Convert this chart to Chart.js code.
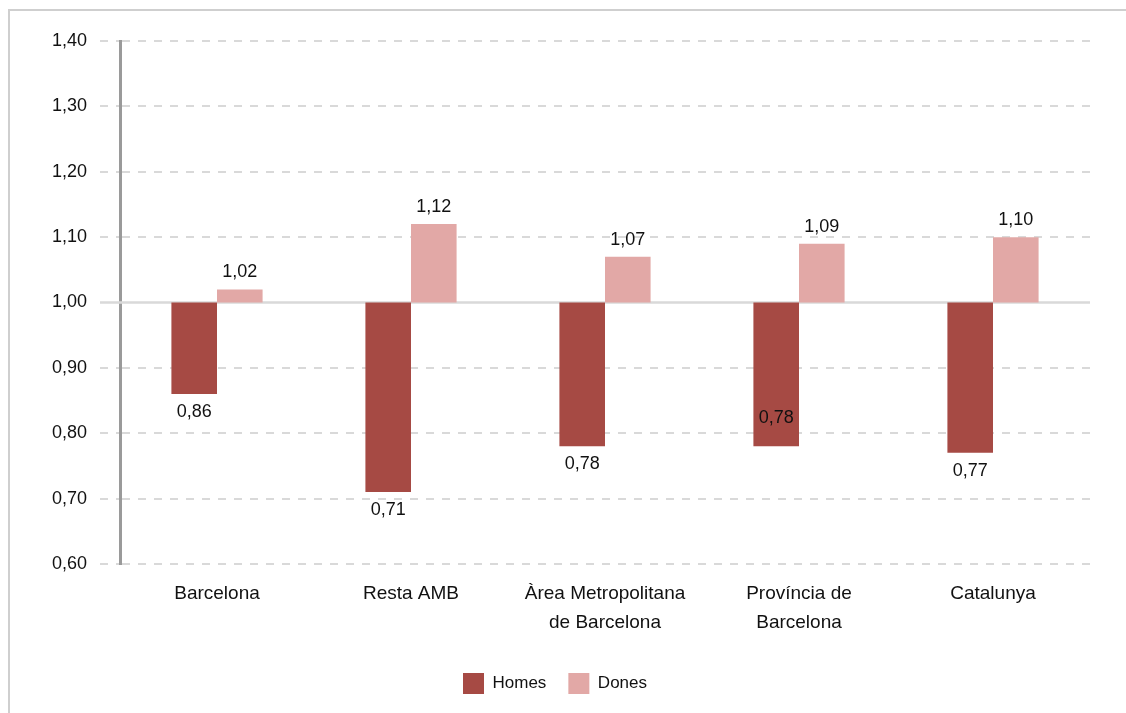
<!DOCTYPE html>
<html>
<head>
<meta charset="utf-8">
<script src="https://cdn.jsdelivr.net/npm/chart.js@4"></script>
<style>
  html, body { margin: 0; padding: 0; background: #fff; }
  #frame {
    position: absolute; left: 8px; top: 9px; width: 1118px; height: 704px;
    border-left: 2px solid #cfcfcf; border-top: 2px solid #cfcfcf;
  }
  #wrap { position: absolute; left: 0; top: 0; width: 1126px; height: 713px; }
</style>
</head>
<body>
<div id="frame"></div>
<div id="wrap"><canvas id="chart"></canvas></div>
<script>
// Data
const categories = [
  "Barcelona",
  "Resta AMB",
  ["Àrea Metropolitana", "de Barcelona"],
  ["Província de", "Barcelona"],
  "Catalunya"
];
const homes = [0.86, 0.71, 0.78, 0.78, 0.77];
const dones = [1.02, 1.12, 1.07, 1.09, 1.10];
const baseValue = 1.0;
const yTicks = [0.6, 0.7, 0.8, 0.9, 1.0, 1.1, 1.2, 1.3, 1.4];

// Styles
const FONT = "'Liberation Sans Narrow', 'Arial Narrow', 'Liberation Sans', sans-serif";
const homesColor = "#a64a44";
const donesColor = "#e2a8a6";
const gridColor = "#d9d9d9";
const homesLabelInside = [false, false, false, true, false];

const fmt = v => v.toFixed(2).replace(".", ",");

// Value labels next to each bar
const valueLabels = {
  id: "valueLabels",
  afterDatasetsDraw(chart) {
    const ctx = chart.ctx;
    const y = chart.scales.y;
    ctx.save();
    ctx.font = "18px " + FONT;
    ctx.fillStyle = "#111";
    ctx.textAlign = "center";
    ctx.textBaseline = "middle";
    chart.data.datasets.forEach((ds, di) => {
      const meta = chart.getDatasetMeta(di);
      meta.data.forEach((bar, i) => {
        const v = ds.raw[i];
        const py = y.getPixelForValue(v);
        let ty;
        if (v < baseValue) {
          ty = homesLabelInside[i] ? py - 28 : py + 18;
        } else {
          ty = py - 17;
        }
        ctx.fillText(fmt(v), bar.x, ty);
      });
    });
    ctx.restore();
  }
};

// Solid reference line at 1,00
const baseLine = {
  id: "baseLine",
  beforeDatasetsDraw(chart) {
    const { ctx, chartArea } = chart;
    const y = chart.scales.y.getPixelForValue(baseValue);
    ctx.save();
    ctx.strokeStyle = gridColor;
    ctx.lineWidth = 2.5;
    ctx.beginPath();
    ctx.moveTo(chartArea.left - 20, y);
    ctx.lineTo(chartArea.right, y);
    ctx.stroke();
    ctx.restore();
  }
};

const gridFor = c => (c.tick && c.tick.value === baseValue ? "rgba(0,0,0,0)" : gridColor);

new Chart(document.getElementById("chart"), {
  type: "bar",
  data: {
    labels: categories,
    datasets: [
      {
        label: "Homes",
        raw: homes,
        data: homes.map(v => [baseValue, v]),
        backgroundColor: homesColor
      },
      {
        label: "Dones",
        raw: dones,
        data: dones.map(v => [baseValue, v]),
        backgroundColor: donesColor
      }
    ]
  },
  options: {
    responsive: true,
    maintainAspectRatio: false,
    animation: false,
    layout: { padding: { top: 41, right: 36, bottom: 9, left: 20 } },
    datasets: {
      bar: { barPercentage: 1, categoryPercentage: 0.47 }
    },
    scales: {
      x: {
        grid: { display: false },
        border: { display: false },
        afterFit: s => { s.height += 6; },
        ticks: {
          color: "#111",
          font: { family: FONT, size: 19, lineHeight: 1.5 },
          padding: 8,
          maxRotation: 0
        }
      },
      y: {
        min: 0.6,
        max: 1.4,
        afterBuildTicks: s => { s.ticks = yTicks.map(v => ({ value: v })); },
        afterFit: s => { s.width = 100; },
        border: { display: true, color: "#9a9a9a", width: 3, dash: [8, 8] },
        grid: {
          color: gridFor,
          lineWidth: 2,
          tickLength: 20,
          tickColor: gridFor,
          tickWidth: 2,
          tickBorderDash: [8, 8]
        },
        ticks: {
          color: "#111",
          font: { family: FONT, size: 18 },
          padding: 13,
          callback: v => fmt(v)
        }
      }
    },
    plugins: {
      legend: {
        position: "bottom",
        labels: {
          boxWidth: 21,
          boxHeight: 21,
          color: "#111",
          padding: 22,
          font: { family: FONT, size: 17 }
        }
      },
      tooltip: { enabled: false }
    }
  },
  plugins: [baseLine, valueLabels]
});
</script>
</body>
</html>
